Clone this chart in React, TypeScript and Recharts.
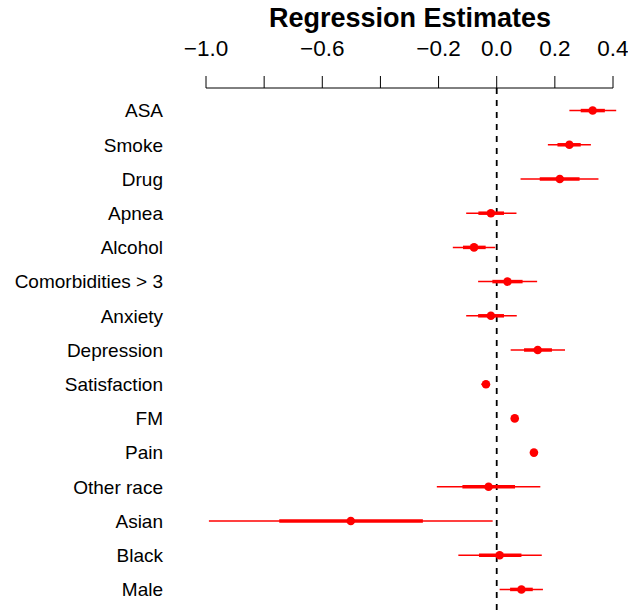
import {
  ErrorBar,
  ReferenceLine,
  Scatter,
  ScatterChart,
  XAxis,
  YAxis,
} from "recharts";

const variables = [
  "ASA",
  "Smoke",
  "Drug",
  "Apnea",
  "Alcohol",
  "Comorbidities > 3",
  "Anxiety",
  "Depression",
  "Satisfaction",
  "FM",
  "Pain",
  "Other race",
  "Asian",
  "Black",
  "Male",
];

const estimates = [0.33, 0.25, 0.217, -0.02, -0.078, 0.037, -0.02, 0.141, -0.037, 0.062, 0.128, -0.028, -0.502, 0.01, 0.085];

// +/- 1 SE (thick segment)
const innerLow = [0.289, 0.209, 0.148, -0.063, -0.116, -0.015, -0.064, 0.094, -0.045, 0.058, 0.124, -0.118, -0.748, -0.061, 0.046];
const innerHigh = [0.372, 0.289, 0.285, 0.025, -0.038, 0.089, 0.025, 0.19, -0.029, 0.066, 0.132, 0.063, -0.254, 0.085, 0.124];

// +/- 2 SE (thin segment)
const outerLow = [0.25, 0.176, 0.082, -0.105, -0.151, -0.064, -0.105, 0.048, -0.053, 0.055, 0.121, -0.206, -0.99, -0.132, 0.01];
const outerHigh = [0.411, 0.324, 0.35, 0.068, -0.005, 0.139, 0.069, 0.235, -0.023, 0.069, 0.135, 0.15, -0.014, 0.155, 0.159];

const xTicks = [-1, -0.8, -0.6, -0.4, -0.2, 0, 0.2, 0.4];
const labelledTicks = ["-1.0", "-0.6", "-0.2", "0.0", "0.2", "0.4"];

const rows = variables.map((name, i) => ({
  name,
  x: estimates[i],
  y: i,
  inner: [estimates[i] - innerLow[i], innerHigh[i] - estimates[i]],
  outer: [estimates[i] - outerLow[i], outerHigh[i] - estimates[i]],
}));

const font = "'Liberation Sans', Arial, sans-serif";

function formatX(v: number) {
  const s = v.toFixed(1);
  if (!labelledTicks.includes(s === "-0.0" ? "0.0" : s)) return "";
  return v < 0 ? "\u2212" + Math.abs(v).toFixed(1) : Math.abs(v).toFixed(1);
}

const Dot = (props: any) => (
  <circle cx={props.cx} cy={props.cy} r={4.3} fill="#ff0000" />
);

export default function App() {
  return (
    <div style={{ position: "absolute", left: 0, top: 0, width: 628, height: 612, fontFamily: font }}>
      <div
        style={{
          position: "absolute",
          left: 210,
          width: 400,
          top: 2,
          textAlign: "center",
          fontSize: 27,
          fontWeight: "bold",
          lineHeight: "32px",
        }}
      >
        Regression Estimates
      </div>
      <ScatterChart width={628} height={612} margin={{ top: 0, right: 15, bottom: 0, left: 0 }}>
        <XAxis
          type="number"
          dataKey="x"
          orientation="top"
          domain={[-1, 0.4]}
          allowDataOverflow
          ticks={xTicks}
          interval={0}
          tickFormatter={formatX}
          height={88}
          tickSize={12}
          tickMargin={20}
          stroke="#000"
          tick={{ fill: "#000", fontSize: 22.5, fontFamily: font }}
        />
        <YAxis
          type="number"
          dataKey="y"
          domain={[-0.66, 14.66]}
          reversed
          ticks={variables.map((_, i) => i)}
          interval={0}
          tickFormatter={(i: number) => variables[i] ?? ""}
          width={206}
          axisLine={false}
          tickLine={false}
          tickSize={0}
          tickMargin={43}
          tick={{ fill: "#000", fontSize: 19, fontFamily: font }}
        />
        <ReferenceLine x={0} stroke="#000" strokeWidth={1.8} strokeDasharray="6 6" />
        <Scatter data={rows} shape={Dot} isAnimationActive={false}>
          <ErrorBar dataKey="outer" direction="x" width={0} stroke="#ff0000" strokeWidth={1.5} isAnimationActive={false} />
          <ErrorBar dataKey="inner" direction="x" width={0} stroke="#ff0000" strokeWidth={3.5} isAnimationActive={false} />
        </Scatter>
      </ScatterChart>
    </div>
  );
}
